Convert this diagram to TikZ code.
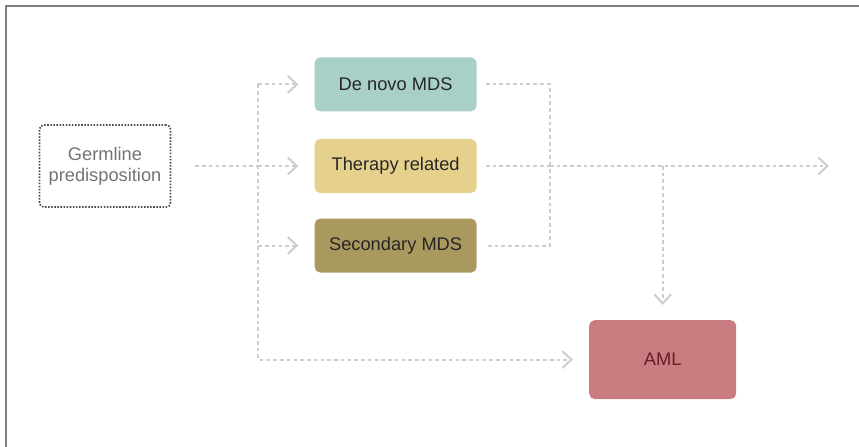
\documentclass[tikz,border=0pt]{standalone}
\usepackage{fontspec}
\setmainfont{Liberation Sans}
\usetikzlibrary{arrows.meta, positioning}
\definecolor{novoteal}{HTML}{A9CFC9}
\definecolor{therapysand}{HTML}{E5D18C}
\definecolor{secolive}{HTML}{AA995E}
\definecolor{amlrose}{HTML}{C97D81}
\definecolor{amltext}{HTML}{6E1A24}
\definecolor{linkgray}{HTML}{CDCDCD}
\definecolor{framegray}{HTML}{808080}

\begin{document}
\begin{tikzpicture}[node distance=0.65cm,
                stage/.style={rounded corners=4pt, minimum width=4.05cm, minimum height=1.35cm,
                              align=center, font=\fontsize{13}{15.5}\selectfont, text=black!85},
                link/.style={draw=linkgray, line width=1.4pt, dash pattern=on 2.6pt off 2.2pt},
                arr/.style={link, -{Straight Barb[length=6.5pt, width=12pt]}}]
                \useasboundingbox (0,0) rectangle (21.475,-11.175);
                \draw[framegray, line width=1.9pt] (0.15,-11.175) -- (0.15,-0.15) -- (21.475,-0.15);

                \node[draw=black!70, dash pattern=on 1.1pt off 1.1pt, line width=1.2pt, rounded corners=3pt,
                      minimum width=3.275cm, minimum height=2.05cm, align=center,
                      font=\fontsize{13}{15}\selectfont, text=black!55]
                      (germ) at (2.625,-4.15) {Germline\\predisposition};
                \node[stage, fill=therapysand, right=3.575cm of germ] (therapy) {Therapy related};
                \node[stage, fill=novoteal, above=0.675cm of therapy] (novo) {De novo MDS};
                \node[stage, fill=secolive, below=0.625cm of therapy] (secondary) {Secondary MDS};
                \node[stage, fill=amlrose, text=amltext, minimum width=3.675cm, minimum height=1.975cm,
                      below right=1.175cm and 2.8cm of secondary] (aml) {AML};

                \coordinate[left=1.4cm of therapy] (split);
                \coordinate[right=1.825cm of therapy] (join);
                \coordinate[right=8.8cm of therapy] (out);

                \draw[link, shorten <=0.6cm] (germ) -- (split);
                \draw[arr, shorten >=0.4cm] (split |- novo) -- (split |- aml) -- (aml);
                \foreach \n in {novo, therapy, secondary}
                    \draw[arr, shorten >=0.4cm] (split |- \n) -- (\n);

                \draw[link, shorten <=0.225cm, shorten >=0.225cm]
                      (novo) -- (join |- novo) -- (join |- secondary) -- (secondary);
                \draw[link, shorten <=0.225cm] (therapy) -- (join);
                \draw[arr] (join) -- (out);
                \draw[arr, shorten >=0.375cm] (aml |- therapy) -- (aml);
            \end{tikzpicture}
\end{document}
